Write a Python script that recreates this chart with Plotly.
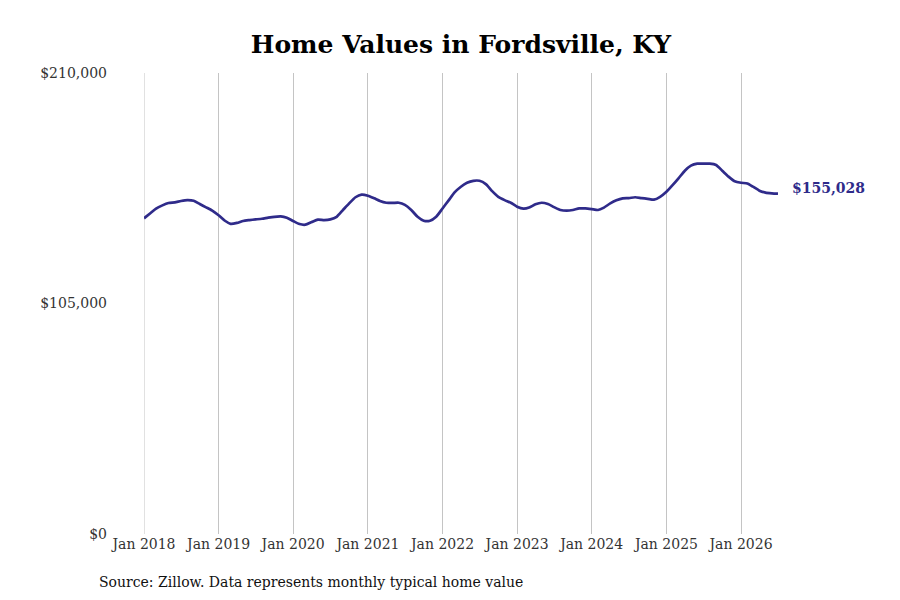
import pandas as pd
import plotly.graph_objects as go

# Monthly typical home value, Jan 2018 - Jul 2026
start_month = "2018-01-01"
values = [
    143800, 146100, 148200, 149700, 150800, 151100, 151700, 152100, 151800, 150300, 148800, 147300,  # 2018
    145200, 142700, 141300, 141700, 142600, 143000, 143300, 143600, 144100, 144500, 144700, 144100,  # 2019
    142600, 141200, 140900, 142100, 143200, 143000, 143300, 144500, 147600, 150600, 153400, 154600,  # 2020
    154100, 152900, 151700, 150900, 150800, 150900, 149900, 147600, 144500, 142700, 142700, 144500,  # 2021
    148300, 152100, 155600, 158200, 160000, 160900, 160900, 159400, 156200, 153600, 152100, 150900,  # 2022
    149100, 148200, 148700, 150200, 150900, 150300, 148900, 147600, 147300, 147600, 148300, 148300,  # 2023
    148000, 147600, 148700, 150600, 152000, 152900, 153000, 153400, 153000, 152700, 152300, 153600,  # 2024
    155900, 159000, 162000, 165500, 167800, 168700, 168700, 168700, 168100, 165500, 162800, 160700,  # 2025
    160000, 159700, 158200, 156400, 155500, 155200, 155028,                                          # 2026
]
dates = pd.date_range(start_month, periods=len(values), freq="MS")

tick_years = list(range(2018, 2027))
tick_dates = [f"{y}-01-01" for y in tick_years]
tick_labels = [f"Jan {y}" for y in tick_years]

y_ticks = [0, 105000, 210000]
y_labels = ["$0", "$105,000", "$210,000"]

line_color = "#2f2b8a"
grid_color = "#c4c4c4"
serif = "DejaVu Serif"

# the page body adds an 8px margin, so the figure is 892x592 and offsets are shifted by 8px
W, H = 892, 592
L, R, T, B = 136, 122, 65, 66
plot_w, plot_h = W - L - R, H - T - B

fig = go.Figure()
fig.add_trace(go.Scatter(
    x=dates, y=values, mode="lines",
    line=dict(color=line_color, width=2.7, shape="spline", smoothing=0.6),
    hoverinfo="skip", showlegend=False,
))

# first gridline sits on the plot edge, plotly skips it there
fig.add_shape(type="line", x0=dates[0], x1=dates[0], y0=0, y1=1, yref="paper",
              line=dict(color=grid_color, width=1), layer="below")

# label for the latest value
fig.add_annotation(
    x=dates[-1], y=values[-1], text=f"<b>${values[-1]:,}</b>",
    showarrow=False, xanchor="left", xshift=12, yshift=6,
    font=dict(family=serif, size=14, color=line_color),
)

fig.add_annotation(
    x=(89 - L) / plot_w, y=-48 / plot_h, xref="paper", yref="paper",
    text="Source: Zillow. Data represents monthly typical home value",
    showarrow=False, xanchor="left", yanchor="middle",
    font=dict(family=serif, size=14, color="#111"),
)

fig.update_layout(
    width=W, height=H,
    margin=dict(l=L, r=R, t=T, b=B, autoexpand=False),
    paper_bgcolor="white", plot_bgcolor="white",
    title=dict(text="<b>Home Values in Fordsville, KY</b>", x=453 / W, xanchor="center",
               y=1 - 36 / H, yanchor="middle", automargin=False,
               font=dict(family=serif, size=25, color="#000")),
    font=dict(family=serif, size=14, color="#333"),
)
fig.update_xaxes(
    range=[dates[0], dates[-1]], tickvals=tick_dates, ticktext=tick_labels,
    showgrid=True, gridcolor=grid_color, gridwidth=1, zeroline=False, showline=False,
    ticks="", automargin=False, tickfont=dict(family=serif, size=14, color="#333"),
)
fig.update_yaxes(
    range=[0, 210000], tickvals=y_ticks, ticktext=y_labels,
    showgrid=False, zeroline=False, showline=False, ticks="", automargin=False,
    ticklabelstandoff=36, tickfont=dict(family=serif, size=14, color="#333"),
)

fig.write_html("out.html")
